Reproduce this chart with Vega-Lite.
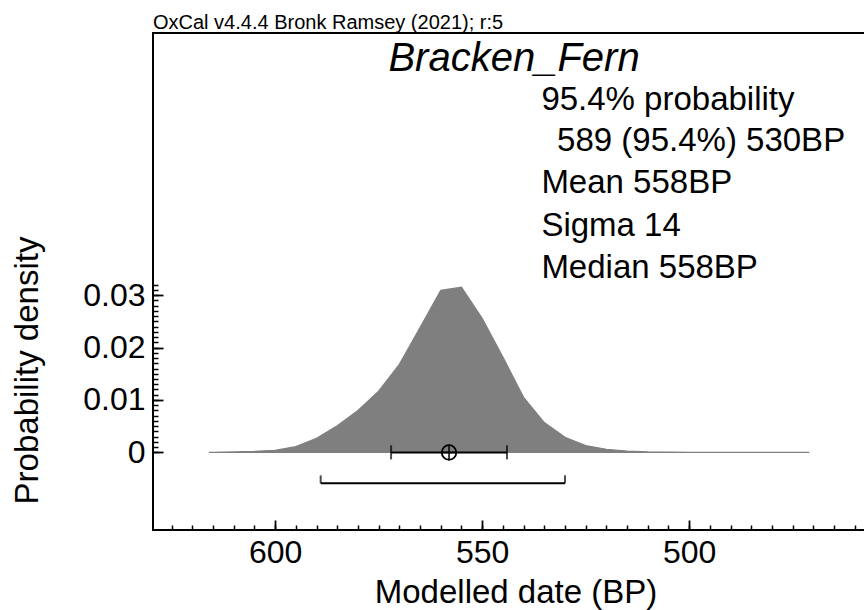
{
  "$schema": "https://vega.github.io/schema/vega-lite/v6.json",
  "width": 725,
  "height": 497,
  "autosize": {"type": "none"},
  "padding": {"left": 153, "top": 33, "right": 0, "bottom": 80},
  "background": "white",
  "config": {
    "view": {"stroke": "black", "strokeWidth": 2},
    "font": "Liberation Sans",
    "axis": {"domain": false, "grid": false, "tickColor": "black", "labelColor": "black", "titleColor": "black", "titleFontWeight": "normal", "labelFont": "Liberation Sans", "titleFont": "Liberation Sans", "labelOverlap": false, "labelFlush": false}
  },
  "resolve": {"axis": {"x": "independent", "y": "independent"}},
  "datasets": {
    "density": [
      {"bp": 616, "p": 0},
      {"bp": 615, "p": 0.00002},
      {"bp": 610, "p": 0.0001},
      {"bp": 605, "p": 0.0002},
      {"bp": 600, "p": 0.0004},
      {"bp": 595, "p": 0.0011},
      {"bp": 590, "p": 0.0027},
      {"bp": 585, "p": 0.0051},
      {"bp": 580, "p": 0.008},
      {"bp": 575, "p": 0.0117},
      {"bp": 570, "p": 0.0168},
      {"bp": 565, "p": 0.0238},
      {"bp": 560, "p": 0.0309},
      {"bp": 555, "p": 0.0315},
      {"bp": 550, "p": 0.0256},
      {"bp": 545, "p": 0.0182},
      {"bp": 540, "p": 0.0105},
      {"bp": 535, "p": 0.0057},
      {"bp": 530, "p": 0.0029},
      {"bp": 525, "p": 0.0013},
      {"bp": 520, "p": 0.0006},
      {"bp": 515, "p": 0.00025},
      {"bp": 510, "p": 0.0001},
      {"bp": 505, "p": 0.00004},
      {"bp": 500, "p": 0.00001},
      {"bp": 471, "p": 0}
    ],
    "ranges": [
      {"level": "68.2%", "from": 572, "to": 544, "y": 0},
      {"level": "95.4%", "from": 589, "to": 530, "y": -0.0059}
    ],
    "mean": [{"bp": 558, "y": 0}],
    "title": [{"bp": 542.3, "p": 0.0728, "t": "Bracken_Fern"}],
    "notes": [
      {"bp": 535.7, "p": 0.0653, "t": "95.4% probability"},
      {"bp": 531.9, "p": 0.0575, "t": "589 (95.4%) 530BP"},
      {"bp": 535.7, "p": 0.0495, "t": "Mean 558BP"},
      {"bp": 535.7, "p": 0.0413, "t": "Sigma 14"},
      {"bp": 535.7, "p": 0.0333, "t": "Median 558BP"}
    ],
    "credit": [{"bp": 629.5, "p": 0.0808, "t": "OxCal v4.4.4 Bronk Ramsey (2021); r:5"}]
  },
  "layer": [
    {
      "data": {"name": "density"},
      "mark": {"type": "area", "color": "#7f7f7f", "stroke": "#7f7f7f", "strokeWidth": 1.2, "clip": true},
      "encoding": {
        "x": {
          "field": "bp", "type": "quantitative",
          "scale": {"domain": [454.4, 629.5], "reverse": true, "nice": false, "zero": false},
          "axis": {
            "orient": "bottom",
            "values": [460,465,470,475,480,485,490,495,500,505,510,515,520,525,530,535,540,545,550,555,560,565,570,575,580,585,590,595,600,605,610,615,620,625],
            "labels": false,
            "tickSize": -5,
            "tickWidth": 1.5,
            "title": null
          }
        },
        "y": {
          "field": "p", "type": "quantitative",
          "scale": {"domain": [-0.0148, 0.08], "nice": false, "zero": false},
          "axis": {
            "orient": "left",
            "values": [0,0.001,0.002,0.003,0.004,0.005,0.006,0.007,0.008,0.009,0.01,0.011,0.012,0.013,0.014,0.015,0.016,0.017,0.018,0.019,0.02,0.021,0.022,0.023,0.024,0.025,0.026,0.027,0.028,0.029,0.03,0.031,0.032],
            "labels": false,
            "tickSize": -5,
            "tickWidth": 1.5,
            "title": null
          }
        }
      }
    },
    {
      "data": {"name": "ranges"},
      "mark": {"type": "rule", "color": "black", "strokeWidth": 2},
      "encoding": {
        "x": {
          "field": "from", "type": "quantitative",
          "axis": {
            "orient": "bottom",
            "values": [500, 550, 600],
            "tickSize": -10,
            "tickWidth": 1.8,
            "labelPadding": 42,
            "labelBaseline": "alphabetic",
            "labelFontSize": 32,
            "title": "Modelled date (BP)",
            "titleFontSize": 33,
            "titleY": 72,
            "titleBaseline": "alphabetic"
          }
        },
        "x2": {"field": "to"},
        "y": {
          "field": "y", "type": "quantitative",
          "axis": {
            "orient": "left",
            "values": [0, 0.01, 0.02, 0.03],
            "format": ".2~f",
            "tickSize": -10,
            "tickWidth": 1.8,
            "labelPadding": 18,
            "labelBaseline": "middle",
            "labelFontSize": 32,
            "title": "Probability density",
            "titleFontSize": 33,
            "titleAngle": -90,
            "titleX": -126,
            "titleY": 337,
            "titleAlign": "center",
            "titleBaseline": "middle"
          }
        }
      }
    },
    {
      "data": {"name": "ranges"},
      "transform": [{"filter": "datum.level === '68.2%'"}, {"fold": ["from", "to"], "as": ["end", "bp"]}],
      "mark": {"type": "tick", "orient": "vertical", "color": "black", "size": 14, "thickness": 2},
      "encoding": {
        "x": {"field": "bp", "type": "quantitative", "axis": null},
        "y": {"field": "y", "type": "quantitative", "axis": null}
      }
    },
    {
      "data": {"name": "ranges"},
      "transform": [{"filter": "datum.level === '95.4%'"}, {"fold": ["from", "to"], "as": ["end", "bp"]}],
      "mark": {"type": "tick", "orient": "vertical", "color": "black", "size": 8, "thickness": 2, "yOffset": -4},
      "encoding": {
        "x": {"field": "bp", "type": "quantitative", "axis": null},
        "y": {"field": "y", "type": "quantitative", "axis": null}
      }
    },
    {
      "data": {"name": "mean"},
      "mark": {"type": "point", "shape": "circle", "filled": false, "stroke": "black", "strokeWidth": 1.8, "size": 210, "opacity": 1},
      "encoding": {
        "x": {"field": "bp", "type": "quantitative", "axis": null},
        "y": {"field": "y", "type": "quantitative", "axis": null}
      }
    },
    {
      "data": {"name": "mean"},
      "mark": {"type": "point", "shape": "M-1,0H1M0,-1V1", "filled": false, "stroke": "black", "strokeWidth": 1.5, "size": 256, "opacity": 1},
      "encoding": {
        "x": {"field": "bp", "type": "quantitative", "axis": null},
        "y": {"field": "y", "type": "quantitative", "axis": null}
      }
    },
    {
      "data": {"name": "title"},
      "mark": {"type": "text", "font": "Liberation Sans", "fontStyle": "italic", "fontSize": 40, "align": "center", "baseline": "alphabetic", "color": "black"},
      "encoding": {
        "x": {"field": "bp", "type": "quantitative", "axis": null},
        "y": {"field": "p", "type": "quantitative", "axis": null},
        "text": {"field": "t"}
      }
    },
    {
      "data": {"name": "notes"},
      "mark": {"type": "text", "font": "Liberation Sans", "fontSize": 33, "align": "left", "baseline": "alphabetic", "color": "black"},
      "encoding": {
        "x": {"field": "bp", "type": "quantitative", "axis": null},
        "y": {"field": "p", "type": "quantitative", "axis": null},
        "text": {"field": "t"}
      }
    },
    {
      "data": {"name": "credit"},
      "mark": {"type": "text", "font": "Liberation Sans", "fontSize": 20, "align": "left", "baseline": "alphabetic", "color": "black"},
      "encoding": {
        "x": {"field": "bp", "type": "quantitative", "axis": null},
        "y": {"field": "p", "type": "quantitative", "axis": null},
        "text": {"field": "t"}
      }
    }
  ]
}
